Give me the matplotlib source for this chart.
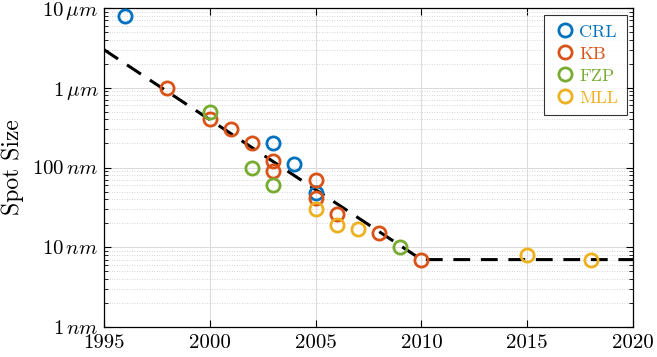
# spot size of x-ray optics versus year
import numpy as np
import matplotlib.pyplot as plt
from matplotlib.ticker import LogLocator, NullFormatter

plt.rcParams['font.family'] = 'serif'
plt.rcParams['font.serif'] = ['cmr10']
plt.rcParams['mathtext.fontset'] = 'cm'
plt.rcParams['axes.unicode_minus'] = False

# data (spot size in metres)
crl_year = [1996, 2003, 2004, 2005]
crl_size = [8e-6, 205e-9, 112e-9, 48e-9]

kb_year = [1998, 2000, 2001, 2002, 2003, 2003, 2005, 2005, 2006, 2008, 2010]
kb_size = [1e-6, 400e-9, 300e-9, 200e-9, 120e-9, 90e-9, 70e-9, 42e-9, 26e-9, 15e-9, 7e-9]

fzp_year = [2000, 2002, 2003, 2009]
fzp_size = [500e-9, 100e-9, 60e-9, 10e-9]

mll_year = [2005, 2006, 2007, 2015, 2018]
mll_size = [30e-9, 19e-9, 17e-9, 8e-9, 7e-9]

trend_year = [1995, 2010, 2020]
trend_size = [3e-6, 7e-9, 7e-9]

ytick_vals = [1e-9, 1e-8, 1e-7, 1e-6, 1e-5]
ytick_labels = [r'$1\,nm$', r'$10\,nm$', r'$100\,nm$', r'$1\,\mu m$', r'$10\,\mu m$']
xtick_vals = [1995, 2000, 2005, 2010, 2015, 2020]

colors = {'CRL': (0, 0.447, 0.741), 'KB': (0.85, 0.325, 0.098),
          'FZP': (0.466, 0.674, 0.188), 'MLL': (0.929, 0.694, 0.125)}


def main():
    fig = plt.figure(figsize=(6.57, 3.57), dpi=100)
    ax = fig.add_axes([104 / 657, 1 - 327 / 357, 529 / 657, 319 / 357])

    ax.plot(trend_year, trend_size, color='k', lw=2.2, ls=(0, (5.5, 3.5)), zorder=2)

    series = [('CRL', crl_year, crl_size), ('KB', kb_year, kb_size),
              ('FZP', fzp_year, fzp_size), ('MLL', mll_year, mll_size)]
    for name, xs, ys in series:
        ax.plot(xs, ys, 'o', mfc='none', mec=colors[name], mew=2.0, ms=9.5,
                label=name, zorder=3)

    ax.set_yscale('log')
    ax.set_xlim(1995, 2020)
    ax.set_ylim(1e-9, 1e-5)
    ax.set_xticks(xtick_vals)
    ax.set_xticklabels([str(v) for v in xtick_vals])
    ax.set_yticks(ytick_vals)
    ax.set_yticklabels(ytick_labels)
    ax.yaxis.set_minor_locator(LogLocator(base=10, subs=np.arange(2, 10)))
    ax.yaxis.set_minor_formatter(NullFormatter())

    ax.tick_params(which='both', direction='in', top=True, right=True, labelsize=15)
    ax.tick_params(axis='x', pad=5)
    ax.tick_params(axis='y', pad=4)
    ax.tick_params(which='major', length=5, width=0.8)
    ax.tick_params(which='minor', length=3, width=0.6)
    ax.grid(True, which='major', color='#dcdcdc', lw=0.8)
    ax.grid(True, which='minor', axis='y', color='#c8c8c8', lw=0.6, ls=(0, (1, 2)))
    ax.set_axisbelow(True)
    for s in ax.spines.values():
        s.set_linewidth(0.9)

    ax.set_ylabel('Spot Size', fontsize=17, labelpad=6)

    leg = ax.legend(loc='upper right', frameon=True, fancybox=False, fontsize=13,
                    handletextpad=0.15, handlelength=1.3, borderpad=0.5,
                    labelspacing=0.35, borderaxespad=0,
                    bbox_to_anchor=(1 - 6 / 529, 1 - 7 / 319))
    leg.get_frame().set_edgecolor('k')
    leg.get_frame().set_linewidth(0.8)
    for txt, (name, _, _) in zip(leg.get_texts(), series):
        txt.set_color(colors[name])

    plt.savefig('out.png', dpi=100)


if __name__ == '__main__':
    main()
